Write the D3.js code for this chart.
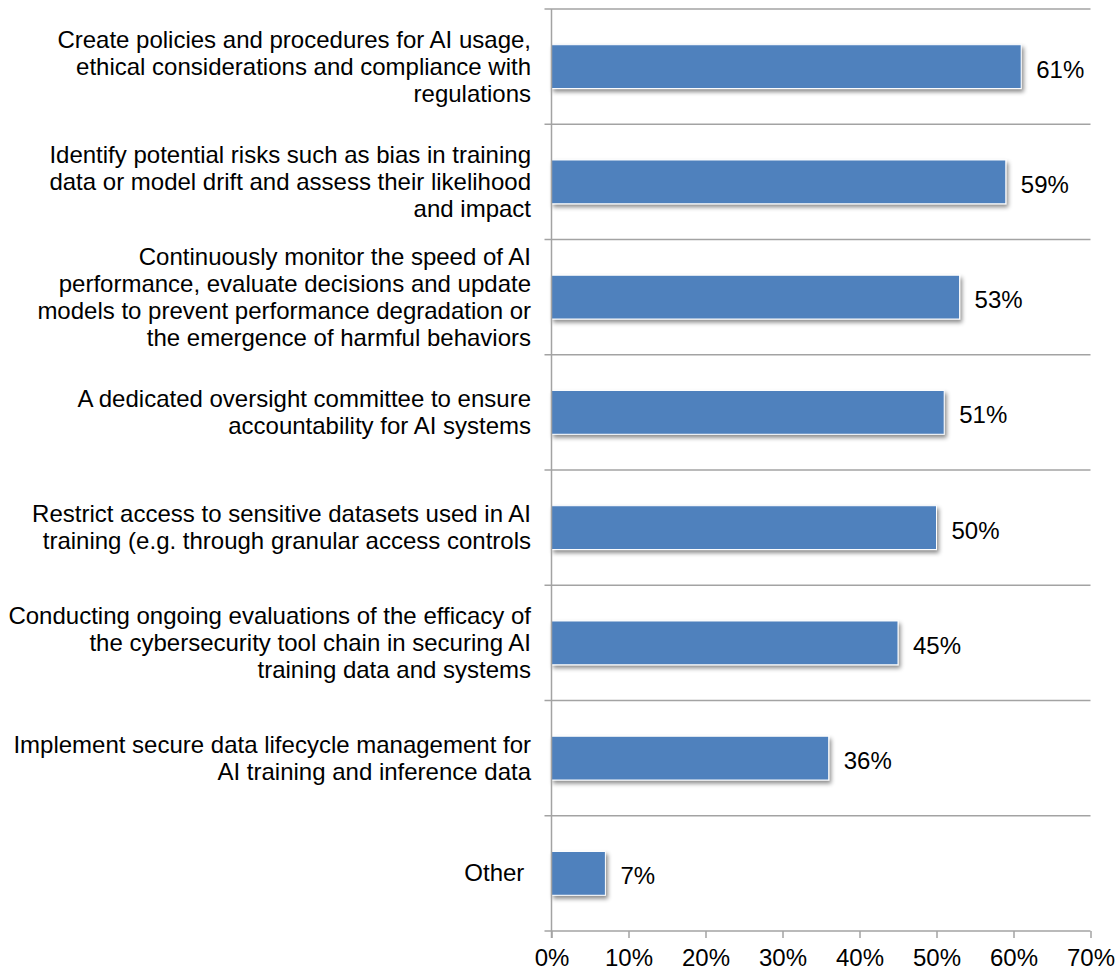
<!DOCTYPE html>
<html>
<head>
<meta charset="utf-8">
<script src="https://cdn.jsdelivr.net/npm/d3@7"></script>
<style>
  html, body { margin: 0; padding: 0; background: #fff; }
  svg { display: block; font-family: "Liberation Sans", Arial, sans-serif; }
  .cat tspan { white-space: pre; }
</style>
</head>
<body>
<svg id="chart" width="1115" height="968"></svg>
<script>
// Survey responses: measures taken to govern AI systems
const categories = [
  ["Create policies and procedures for AI usage,", "ethical considerations and compliance with", "regulations"],
  ["Identify potential risks such as bias in training", "data or model drift and assess their likelihood", "and impact"],
  ["Continuously monitor the speed of AI", "performance, evaluate decisions and update", "models to prevent performance degradation or", "the emergence of harmful behaviors"],
  ["A dedicated oversight committee to ensure", "accountability for AI systems"],
  ["Restrict access to sensitive datasets used in AI", "training (e.g. through granular access controls"],
  ["Conducting ongoing evaluations of the efficacy of", "the cybersecurity tool chain in securing AI", "training data and systems"],
  ["Implement secure data lifecycle management for", "AI training and inference data"],
  ["Other "]
];
const values = [61, 59, 53, 51, 50, 45, 36, 7];
const tickValues = [0, 10, 20, 30, 40, 50, 60, 70];

const svg = d3.select("#chart");
const plotLeft = 551.5, plotRight = 1090.5, plotTop = 9, plotBottom = 931;
const fontSize = 24;

const x = d3.scaleLinear().domain([0, 70]).range([plotLeft, plotRight]);
const y = d3.scaleBand().domain(d3.range(categories.length)).range([plotTop, plotBottom]).paddingInner(0.62).paddingOuter(0.31);
const band = d3.scaleBand().domain(d3.range(categories.length)).range([plotTop, plotBottom]);

const gridColor = "#a3a3a3";

// drop shadow for the bars
const defs = svg.append("defs");
const f = defs.append("filter").attr("id", "shadow").attr("x", "-10%").attr("y", "-30%").attr("width", "130%").attr("height", "180%");
f.append("feDropShadow").attr("dx", 2).attr("dy", 3).attr("stdDeviation", 2.2)
  .attr("flood-color", "#000").attr("flood-opacity", 0.45);

// horizontal gridlines at category boundaries, with left ticks
const boundaries = d3.range(categories.length + 1).map(i => plotTop + i * band.step());
svg.append("g").selectAll("line").data(boundaries.slice(0, -1)).join("line")
  .attr("x1", plotLeft - 7).attr("x2", plotRight)
  .attr("y1", d => d).attr("y2", d => d)
  .attr("stroke", gridColor).attr("stroke-width", 1.5);

// bars
svg.append("g").selectAll("rect").data(values).join("rect")
  .attr("x", x(0))
  .attr("y", (d, i) => y(i))
  .attr("width", d => x(d) - x(0))
  .attr("height", y.bandwidth())
  .attr("fill", "#4f81bd")
  .attr("stroke", "#ffffff").attr("stroke-width", 1)
  .attr("filter", "url(#shadow)");

// value labels
svg.append("g").selectAll("text").data(values).join("text")
  .attr("x", d => x(d) + 15)
  .attr("y", (d, i) => band(i) + band.bandwidth() / 2 + 11)
  .attr("font-size", fontSize)
  .attr("fill", "#000")
  .text(d => d + "%");

// category labels, right aligned and vertically centred in each band
const lineH = 27;
const cat = svg.append("g").attr("class", "cat").selectAll("text").data(categories).join("text")
  .attr("text-anchor", "end")
  .attr("font-size", fontSize)
  .attr("fill", "#000")
  .attr("y", (d, i) => band(i) + band.bandwidth() / 2 + 8 - (d.length - 1) * lineH / 2);
cat.selectAll("tspan").data(d => d).join("tspan")
  .attr("x", 531)
  .attr("dy", (d, i) => i === 0 ? 0 : lineH)
  .text(d => d);

// x axis
const xAxis = svg.append("g").attr("transform", `translate(0,${plotBottom})`)
  .call(d3.axisBottom(x).tickValues(tickValues).tickFormat(d => d + "%").tickSize(7).tickSizeOuter(0));
xAxis.select(".domain").attr("stroke", gridColor).attr("stroke-width", 1.5).attr("d", `M${plotLeft - 7},0H${plotRight}`);
xAxis.selectAll(".tick line").attr("stroke", gridColor).attr("stroke-width", 1.5);
xAxis.selectAll(".tick text").attr("font-size", fontSize).attr("fill", "#000")
  .attr("font-family", "Liberation Sans, Arial, sans-serif").attr("y", 18).attr("dy", "0.71em");

// y axis line
svg.append("line").attr("x1", plotLeft).attr("x2", plotLeft).attr("y1", plotTop).attr("y2", plotBottom + 7)
  .attr("stroke", gridColor).attr("stroke-width", 1.5);
</script>
</body>
</html>
